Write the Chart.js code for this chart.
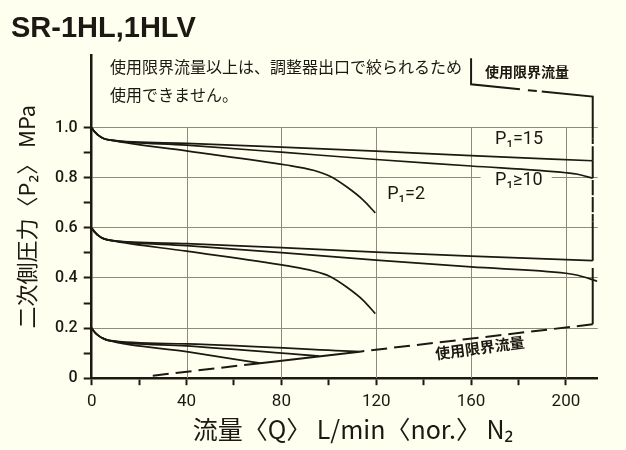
<!DOCTYPE html>
<html>
<head>
<meta charset="utf-8">
<script src="https://cdn.jsdelivr.net/npm/chart.js@4.4.1/dist/chart.umd.min.js"></script>
<style>
  html, body { margin: 0; padding: 0; background: #fffff0; }
  #wrap { width: 626px; height: 450px; }
</style>
</head>
<body>
<div id="wrap"><canvas id="chart" width="626" height="450"></canvas></div>
<script>
// SR-1HL,1HLV flow characteristics: secondary pressure (MPa) vs flow (L/min nor. N2)

const ink = '#1c1812';
const gridCol = '#8e8a7c';
const bgCol = '#fffff0';

// axes
const xTickValues = [0, 20, 40, 60, 80, 100, 120, 140, 160, 180, 200];
const xLabelValues = [0, 40, 80, 120, 160, 200];
const xGridValues = [40, 80, 120, 160, 200];
const yTickValues = [0, 0.1, 0.2, 0.3, 0.4, 0.5, 0.6, 0.7, 0.8, 0.9, 1.0];
const yLabelValues = [0, 0.2, 0.4, 0.6, 0.8, 1.0];
const yGridValues = [0.2, 0.4, 0.6, 0.8, 1.0];

// set pressure 1.0 MPa
const g1_15_x = [0, 0.7, 1.5, 3, 5, 8, 40, 80, 120, 160, 211.3];
const g1_15_y = [1.0, 0.99, 0.981, 0.968, 0.957, 0.95, 0.937, 0.922, 0.906, 0.888, 0.868];
const g1_10_x = [0, 0.7, 1.5, 3, 5, 8, 40, 80, 120, 160, 200, 205, 211.3];
const g1_10_y = [1.0, 0.99, 0.981, 0.968, 0.957, 0.95, 0.930, 0.902, 0.873, 0.847, 0.820, 0.814, 0.798];
const g1_2_x = [0, 0.7, 1.5, 3, 5, 8, 40, 82, 93.5, 100.5, 107.5, 114.5, 119.6];
const g1_2_y = [1.0, 0.99, 0.981, 0.968, 0.957, 0.95, 0.907, 0.851, 0.830, 0.806, 0.764, 0.711, 0.660];

// set pressure 0.6 MPa
const g2_15_x = [0, 0.7, 1.5, 3, 5, 8, 40, 80, 120, 160, 211.3];
const g2_15_y = [0.6, 0.59, 0.581, 0.568, 0.557, 0.55, 0.537, 0.521, 0.503, 0.487, 0.469];
const g2_10_x = [0, 0.7, 1.5, 3, 5, 8, 40, 80, 120, 160, 200, 205, 213.2];
const g2_10_y = [0.6, 0.59, 0.581, 0.568, 0.557, 0.55, 0.529, 0.501, 0.471, 0.444, 0.419, 0.411, 0.387];
const g2_2_x = [0, 0.7, 1.5, 3, 5, 8, 40, 82, 93.5, 100.5, 107.5, 114.5, 119.6];
const g2_2_y = [0.6, 0.59, 0.581, 0.568, 0.557, 0.55, 0.507, 0.449, 0.428, 0.406, 0.364, 0.311, 0.258];

// set pressure 0.2 MPa
const g3_15_x = [0, 0.7, 1.5, 3, 5, 7, 40, 113];
const g3_15_y = [0.2, 0.19, 0.181, 0.169, 0.158, 0.151, 0.137, 0.106];
const g3_10_x = [0, 0.7, 1.5, 3, 5, 7, 40, 96];
const g3_10_y = [0.2, 0.19, 0.181, 0.169, 0.158, 0.151, 0.129, 0.088];
const g3_2_x = [0, 0.7, 1.5, 3, 5, 7, 40, 71];
const g3_2_y = [0.2, 0.19, 0.181, 0.169, 0.158, 0.151, 0.106, 0.060];

// usage limit flow line (使用限界流量), style per segment
const limitX = [160, 160, 180.6, 189.8, 211.3, 211.3, 211.3, 211.3, 211.3, 211.3, 211.3, 211.3, 113, 71, 23];
const limitY = [1.277, 1.173, 1.153, 1.144, 1.124, 0.958, 0.868, 0.798, 0.625, 0.469, 0.44, 0.215, 0.106, 0.060, 0.007];
const limitStyle = ['solid', 'solid', 'dash', 'solid', 'solid', 'dash', 'solid', 'dash', 'solid', 'gap', 'solid', 'ldash', 'solid', 'ldash'];

const dashPatterns = { solid: [], dash: [0, 8, 9, 0], ldash: [16, 7], gap: [] };

function pts(xs, ys) {
    return xs.map((x, i) => ({ x: x, y: ys[i] }));
}

function curve(xs, ys) {
    return {
        data: pts(xs, ys),
        borderColor: ink,
        borderWidth: 1.7,
        pointRadius: 0,
        fill: false,
        cubicInterpolationMode: 'monotone'
    };
}

const jp = '"Noto Sans CJK JP", "Noto Sans", sans-serif';
const latin = 'Roboto, "Liberation Sans", "DejaVu Sans", sans-serif';

// texts, backgrounds and the short grid lines
const decorPlugin = {
    id: 'decor',
    beforeDraw(chart) {
        const ctx = chart.ctx;
        ctx.save();
        ctx.fillStyle = bgCol;
        ctx.fillRect(0, 0, chart.width, chart.height);
        ctx.restore();
    },
    beforeDatasetsDraw(chart) {
        const ctx = chart.ctx;
        const xs = chart.scales.x, ys = chart.scales.y;
        ctx.save();
        // vertical grid lines only run up to 1.0 MPa
        ctx.strokeStyle = gridCol;
        ctx.lineWidth = 1;
        xGridValues.forEach(v => {
            const px = Math.round(xs.getPixelForValue(v)) + 0.5;
            ctx.beginPath();
            ctx.moveTo(px, ys.getPixelForValue(0));
            ctx.lineTo(px, ys.getPixelForValue(1.0));
            ctx.stroke();
        });
        // gap in the 0.8 line behind the P1>=10 label
        ctx.fillStyle = bgCol;
        ctx.fillRect(xs.getPixelForValue(164), ys.getPixelForValue(0.8) - 4, xs.getPixelForValue(194) - xs.getPixelForValue(164), 8);
        ctx.restore();
    },
    afterDraw(chart) {
        const ctx = chart.ctx;
        const xs = chart.scales.x, ys = chart.scales.y;
        ctx.save();
        ctx.fillStyle = ink;
        ctx.textBaseline = 'middle';
        ctx.textAlign = 'left';

        ctx.font = 'bold 29px "Liberation Sans", Arial, sans-serif';
        ctx.fillText('SR-1HL,1HLV', 11, 29);

        ctx.font = '16px ' + jp;
        ctx.fillText('使用限界流量以上は、調整器出口で絞られるため', 110, 67);
        ctx.fillText('使用できません。', 110, 95);

        ctx.font = 'bold 14px ' + jp;
        ctx.fillText('使用限界流量', 485, 72);

        // P1 labels
        ctx.font = '18px ' + latin;
        ctx.fillText('P₁=15', xs.getPixelForValue(170.1), ys.getPixelForValue(0.951));
        ctx.fillText('P₁≥10', xs.getPixelForValue(170.1), ys.getPixelForValue(0.791));
        ctx.fillText('P₁=2', xs.getPixelForValue(124.6), ys.getPixelForValue(0.735));

        // label along the lower limit line
        ctx.save();
        ctx.translate(xs.getPixelForValue(163.7), ys.getPixelForValue(0.121));
        ctx.rotate(-7.5 * Math.PI / 180);
        ctx.textAlign = 'center';
        ctx.font = 'bold 15px ' + jp;
        ctx.fillText('使用限界流量', 0, 0);
        ctx.restore();

        // x axis title
        ctx.textAlign = 'center';
        ctx.font = '25px ' + jp;
        ctx.fillText('流量〈Q〉 L/min〈nor.〉 N₂', 353, 429);
        ctx.restore();
    }
};

const datasets = [
    curve(g1_15_x, g1_15_y), curve(g1_10_x, g1_10_y), curve(g1_2_x, g1_2_y),
    curve(g2_15_x, g2_15_y), curve(g2_10_x, g2_10_y), curve(g2_2_x, g2_2_y),
    curve(g3_15_x, g3_15_y), curve(g3_10_x, g3_10_y), curve(g3_2_x, g3_2_y),
    {
        data: pts(limitX, limitY),
        borderColor: ink,
        borderWidth: 2,
        pointRadius: 0,
        fill: false,
        tension: 0,
        segment: {
            borderDash: ctx => dashPatterns[limitStyle[ctx.p0DataIndex]],
            borderColor: ctx => limitStyle[ctx.p0DataIndex] === 'gap' ? 'rgba(0,0,0,0)' : ink
        }
    }
];

Chart.defaults.font.family = latin;
Chart.defaults.color = ink;

new Chart(document.getElementById('chart'), {
    type: 'line',
    data: { datasets: datasets },
    options: {
        responsive: false,
        animation: false,
        events: [],
        layout: { padding: { left: 0, top: 55, right: 28.3, bottom: 0 } },
        plugins: {
            legend: { display: false },
            tooltip: { enabled: false }
        },
        scales: {
            x: {
                type: 'linear',
                min: 0,
                max: 213.4,
                afterBuildTicks: s => { s.ticks = xTickValues.map(v => ({ value: v })); },
                afterFit: s => { s.height = 71.8; },
                ticks: {
                    autoSkip: false,
                    maxRotation: 0,
                    padding: 6,
                    font: { size: 17 },
                    callback: v => xLabelValues.includes(v) ? String(v) : ''
                },
                grid: {
                    drawOnChartArea: false,
                    drawTicks: true,
                    tickLength: 7,
                    tickColor: ink,
                    tickWidth: 2
                },
                border: { display: true, color: ink, width: 2.5 }
            },
            y: {
                type: 'linear',
                min: 0,
                max: 1.29,
                afterBuildTicks: s => { s.ticks = yTickValues.map(v => ({ value: v })); },
                afterFit: s => { s.width = 91.7; },
                ticks: {
                    autoSkip: false,
                    padding: 6,
                    font: { size: 16, weight: '500' },
                    callback: v => yLabelValues.includes(v) ? (v === 0 ? '0' : v.toFixed(1)) : ''
                },
                grid: {
                    color: ctx => (ctx.tick && yGridValues.includes(ctx.tick.value)) ? gridCol : 'rgba(0,0,0,0)',
                    lineWidth: 1,
                    drawTicks: true,
                    tickLength: 8,
                    tickColor: ink,
                    tickWidth: 2
                },
                border: { display: true, color: ink, width: 2.5 },
                title: {
                    display: true,
                    text: '二次側圧力〈P₂〉 MPa',
                    font: { family: jp, size: 22 },
                    color: ink,
                    padding: { top: 13, bottom: 0 }
                }
            }
        }
    },
    plugins: [decorPlugin]
});
</script>
</body>
</html>
